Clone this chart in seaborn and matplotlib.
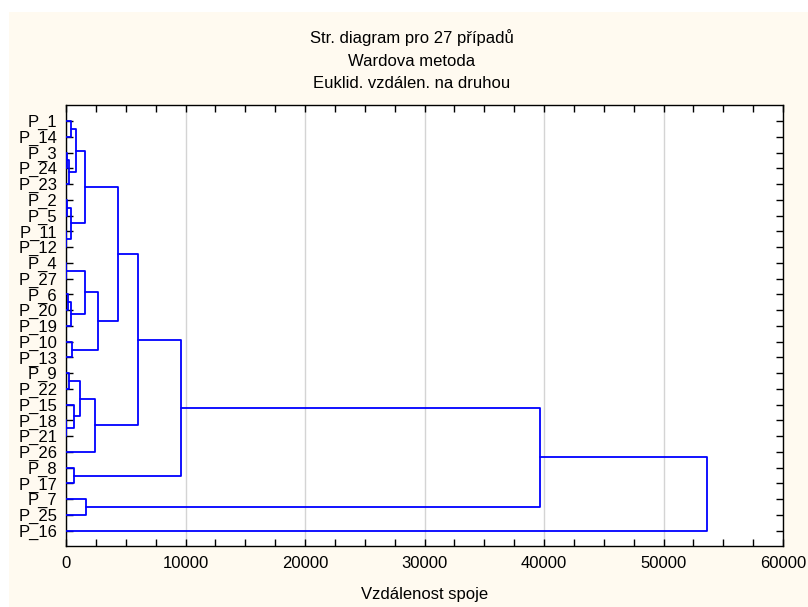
import numpy as np
import pandas as pd
import matplotlib
matplotlib.use("Agg")
import matplotlib.pyplot as plt
from matplotlib.patches import Rectangle
from matplotlib.ticker import MultipleLocator, FixedLocator
import seaborn as sns

# ---- data ----
leaf_labels = ["P_1", "P_14", "P_3", "P_24", "P_23", "P_2", "P_5", "P_11", "P_12",
               "P_4", "P_27", "P_6", "P_20", "P_19", "P_10", "P_13", "P_9", "P_22",
               "P_15", "P_18", "P_21", "P_26", "P_8", "P_17", "P_7", "P_25", "P_16"]

# merges (scipy-like): merge i creates node len(leaf_labels)+i
merge_a = [9, 19, 7, 2, 5, 11, 30, 16, 31, 0, 32, 14, 18, 22, 36, 34, 27, 41, 24, 42, 43, 44, 48, 49, 50, 51]
merge_b = [10, 20, 8, 3, 6, 12, 4, 17, 29, 1, 13, 15, 28, 23, 33, 39, 37, 35, 25, 21, 38, 47, 46, 40, 45, 26]
merge_h = [20, 40, 40, 50, 60, 190, 280, 280, 390, 400, 420, 500, 700, 700, 840, 1170,
           1590, 1620, 1670, 2430, 2710, 4320, 6000, 9630, 39700, 53600]

title_lines = ["Str. diagram pro 27 případů", "Wardova metoda", "Euklid. vzdálen. na druhou"]
x_label = "Vzdálenost spoje"

# ---- build segments ----
n = len(leaf_labels)
pos = {i: float(i) for i in range(n)}
hgt = {i: 0.0 for i in range(n)}
rows = []
for k, (a, b, h) in enumerate(zip(merge_a, merge_b, merge_h)):
    node = n + k
    xs = [hgt[a], h, h, hgt[b]]
    ys = [pos[a], pos[a], pos[b], pos[b]]
    for j, (x, y) in enumerate(zip(xs, ys)):
        rows.append({"seg": k, "order": j, "x": x, "y": y})
    pos[node] = (pos[a] + pos[b]) / 2
    hgt[node] = h
df = pd.DataFrame(rows)

# ---- plot ----
sns.set_theme(style="ticks")
plt.rcParams["font.family"] = ["Liberation Sans", "DejaVu Sans"]

fig = plt.figure(figsize=(8.08, 6.07), dpi=100, facecolor="white")
W, H = 808, 607
bg = Rectangle((9 / W, 0), (W - 9) / W, (H - 12) / H,
               transform=fig.transFigure, facecolor="#FFFAF0",
               edgecolor="none", zorder=-10)
fig.patches.append(bg)

ax = fig.add_axes([66 / W, (H - 546) / H, (783 - 66) / W, (546 - 105) / H])
ax.set_zorder(1)
ax.set_facecolor("white")

sns.lineplot(data=df, x="x", y="y", units="seg", estimator=None, sort=False,
             color="#0000FF", linewidth=1.3, legend=False, ax=ax, zorder=3)

ax.set_xlim(0, 60000)
ax.set_ylim(26.97, -1.02)
ax.xaxis.set_minor_locator(MultipleLocator(2500))
ax.yaxis.set_major_locator(FixedLocator(range(n)))
ax.set_yticklabels(leaf_labels)
ax.set_xticks(np.arange(0, 60001, 10000))
ax.set_xticklabels([f"{int(v)}" for v in np.arange(0, 60001, 10000)])

ax.grid(axis="x", which="major", color="#D4D4D4", linewidth=1, zorder=0)
ax.tick_params(axis="both", which="both", direction="in", top=True, right=True,
               length=5, width=1, color="black", labelcolor="black")
ax.tick_params(axis="x", which="major", pad=7, labelsize=12)
ax.tick_params(axis="y", which="major", pad=6, labelsize=12)
for s in ax.spines.values():
    s.set_color("black")
    s.set_linewidth(1)
    s.set_visible(True)

ax.set_xlabel(x_label, fontsize=12, labelpad=12, color="black")
ax.set_ylabel("")

for t, y in zip(title_lines, [38, 61, 84]):
    fig.text(412 / W, 1 - y / H, t, ha="center", va="center", fontsize=12, color="black")

fig.savefig("out.png", dpi=100, facecolor=fig.get_facecolor())
